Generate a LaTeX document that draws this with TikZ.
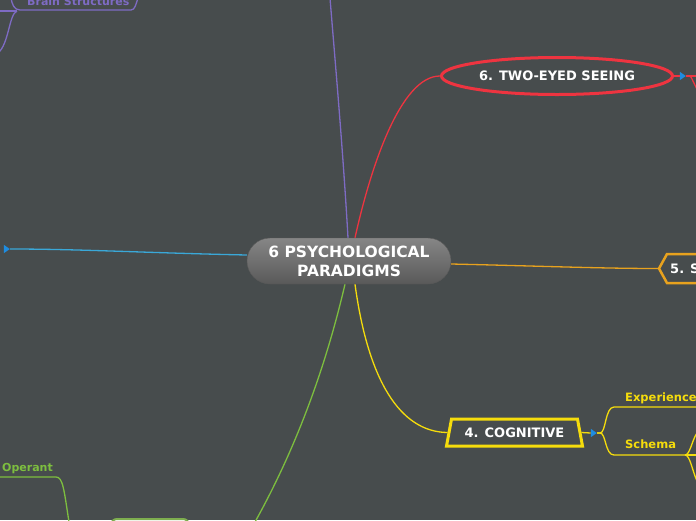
\documentclass[tikz,border=0pt]{standalone}
\usepackage{fontspec}
\setmainfont{DejaVu Sans}
\usetikzlibrary{shapes.geometric, arrows.meta, backgrounds}
\definecolor{bgc}{HTML}{474C4D}
\definecolor{purp}{HTML}{7E6BC4}
\definecolor{redc}{HTML}{EE3440}
\definecolor{cyanc}{HTML}{3AA8D8}
\definecolor{orng}{HTML}{E8A21E}
\definecolor{yell}{HTML}{F5DC0C}
\definecolor{grn}{HTML}{7DBE3F}
\definecolor{tipc}{HTML}{1E8CE0}
\tikzset{hub/.style = {draw=gray!70!black, rounded corners=23pt, top color=gray!95!white, bottom color=gray!70!black, text=white, align=center, minimum width=204, minimum height=46, inner sep=0pt, font=\fontsize{15.5}{19}\selectfont\bfseries}}
\tikzset{topic/.style = {draw, line width=3pt, fill=bgc, text=white, inner sep=0pt, font=\fontsize{13}{15}\selectfont\bfseries}}
\tikzset{sublabel/.style = {anchor=base west, inner sep=0pt, font=\fontsize{11.5}{13}\selectfont\bfseries}}
\tikzset{marker/.style = {isosceles triangle, isosceles triangle apex angle=70, fill=tipc, draw=none, inner sep=0pt, minimum height=6pt}}
\tikzset{edge/.style = {line width=1.3pt}}

\begin{document}
\begin{tikzpicture}[x=1pt, y=-1pt]
    \begin{scope}[on background layer]
        \fill[bgc] (0,0) rectangle (696,520);
    \end{scope}
    \useasboundingbox (0,0) rectangle (696,520);

    \coordinate (purpend) at (330,-2);
    \coordinate (greenend) at (255,522);
    \coordinate (scitip) at (659,268.5);

    \node[hub] (hub) at (349,261) {6 PSYCHOLOGICAL\\PARADIGMS};
    \node[topic, ellipse, draw=redc, minimum width=231, minimum height=37] (seeing) at (557,76) {6. TWO-EYED SEEING};
    \node[topic, trapezium, trapezium stretches, draw=yell, minimum width=136, minimum height=27, trapezium left angle=68, trapezium right angle=68] (cog) at (514.5,432.5) {4. COGNITIVE};
    \node[marker] (cyantip) at (6,249) {};

    % branches behind the hub
    \begin{scope}[on background layer]
        \draw[edge, purp] ([xshift=-1pt]hub.north) .. controls (343,150) and (335,60) .. (purpend);
        \draw[edge, redc] ([xshift=6pt]hub.north) .. controls (370,170) and (400,76) .. (seeing.west);
        \draw[edge, cyanc] ([yshift=6pt]hub.west) .. controls (150,253) and (80,249) .. (cyantip.east);
        \draw[edge, orng] ([yshift=-3pt]hub.east) .. controls (540,266) and (600,268.5) .. (scitip);
        \draw[edge, yell] ([xshift=6pt]hub.south) .. controls (368,380) and (400,432) .. (cog.west);
        \draw[edge, grn] ([xshift=-4pt]hub.south) .. controls (325,370) and (295,450) .. (greenend);
    \end{scope}

    \node[marker] (m6) at (682,76) {};
    \draw[edge, redc] (seeing.east) -- (m6.west);
    \draw[edge, redc] (m6.east) -- (697,76);
    \draw[edge, redc] ([xshift=4pt]m6.east) .. controls (692,78) and (694,84) .. (697,89);

    \draw[line width=2.5pt, orng, fill=bgc] (700,254) -- (667,254) -- (scitip) -- (667,283) -- (700,283);
    \node[anchor=west, text=white, inner sep=0pt, font=\fontsize{13}{15}\selectfont\bfseries] (sci) at (670,268.5) {5. S};

    \node[marker] (m4) at (593,433) {};
    \draw[edge, yell] (cog.east) -- (m4.west);

    \coordinate (exp) at (614,407);
    \coordinate (sch) at (614,455);
    \coordinate (schend) at (685,455);
    \draw[edge, yell] (m4.east) -- ++(3,0) .. controls (606,433) and (605,407) .. (exp) -- (697,407);
    \draw[edge, yell] (m4.east) -- ++(3,0) .. controls (606,433) and (605,455) .. (sch) -- (schend);
    \draw[edge, yell] (schend) .. controls (690,455) and (692,440) .. (697,433);
    \draw[edge, yell] (schend) -- (697,455);
    \draw[edge, yell] (schend) .. controls (690,455) and (692,470) .. (697,481);
    \node[sublabel, text=yell] (explab) at (625,401) {Experiences};
    \node[sublabel, text=yell] (schlab) at (625,448) {Schema};

    % cut off at the top left
    \draw[edge, purp] (-2,11) -- (17,11);
    \draw[edge, purp] (17,11) .. controls (9,14) and (9,44) .. (-2,53);
    \draw[edge, purp] (11,-2) .. controls (12,4) and (14,10) .. (20,10) -- (131,10) .. controls (135,10) and (136,4) .. (138,-2);
    \node[sublabel, text=purp, font=\fontsize{11}{13}\selectfont\bfseries] (brain) at (27,5.5) {Brain Structures};

    % cut off at the bottom left
    \coordinate (opend) at (56,477);
    \draw[edge, grn] (-2,477) -- (opend) .. controls (63,477) and (64,490) .. (69,522);
    \node[sublabel, text=grn, font=\fontsize{11}{13}\selectfont\bfseries] (operant) at (2,471) {Operant};
    \draw[line width=2pt, grn!75!gray, rounded corners=6pt] (111,540) -- (111,519) -- (189,519) -- (189,540);
\end{tikzpicture}
\end{document}
